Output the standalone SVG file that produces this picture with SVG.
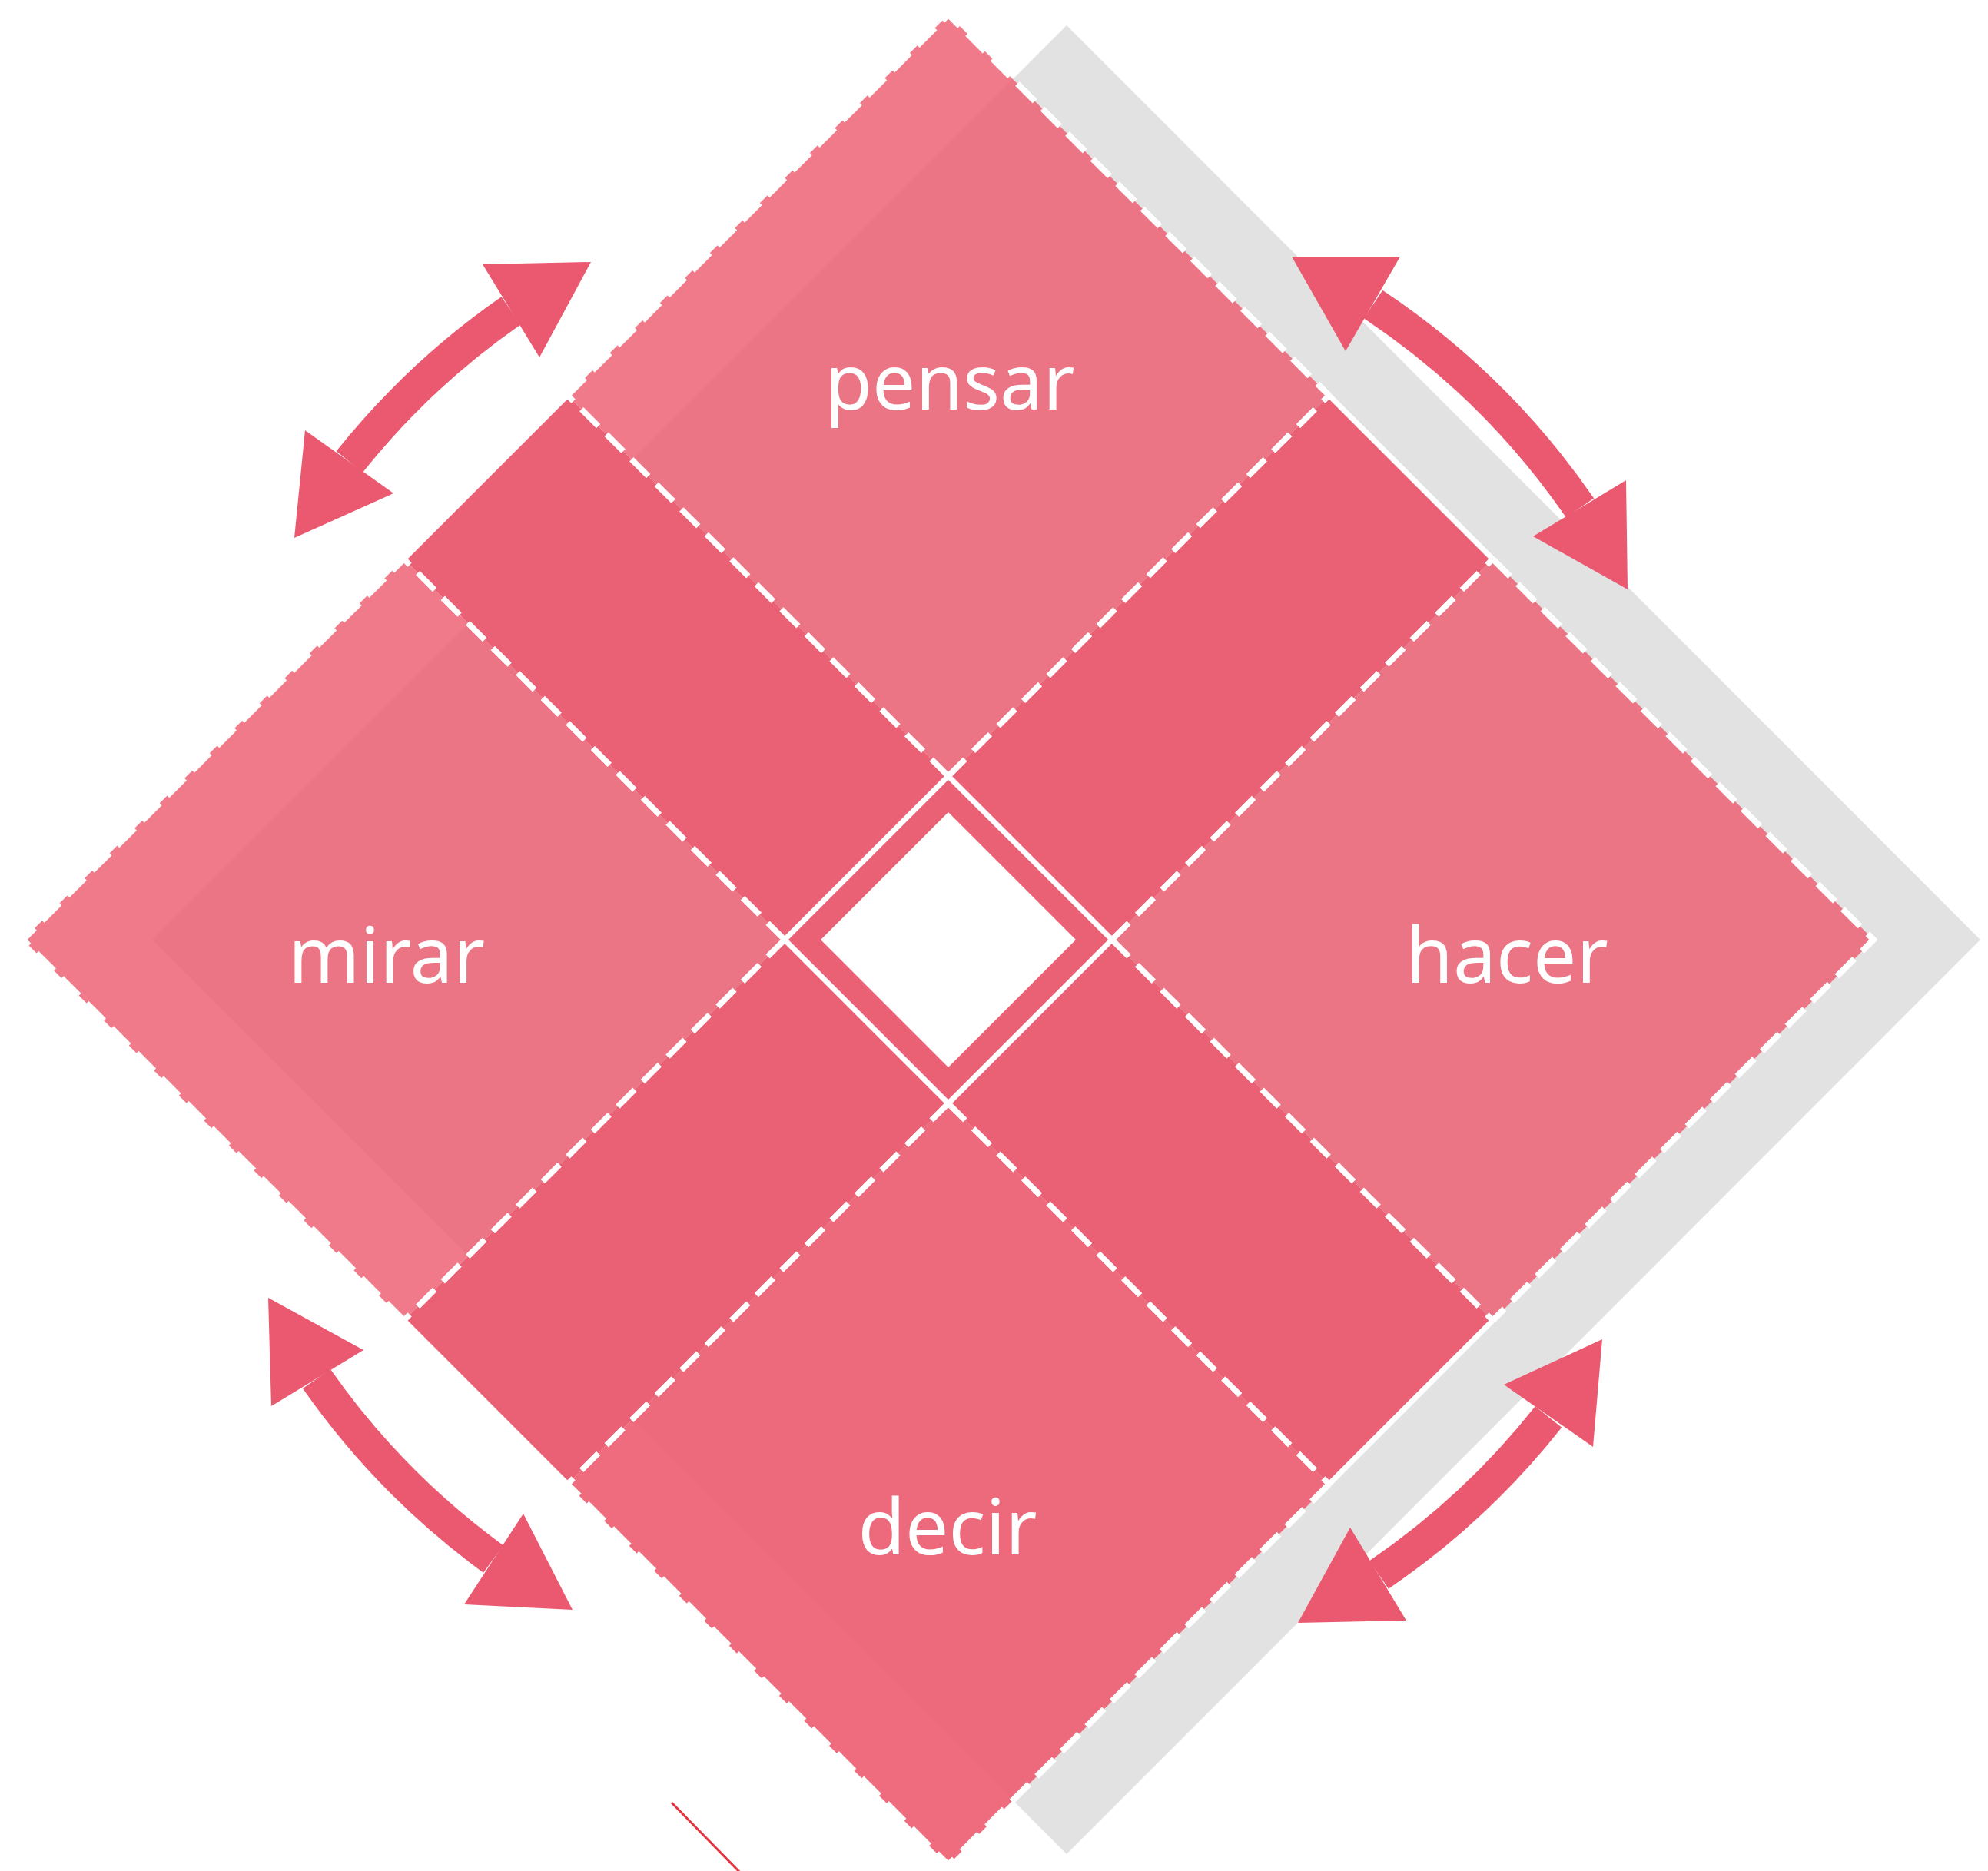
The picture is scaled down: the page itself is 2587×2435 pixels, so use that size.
<svg xmlns="http://www.w3.org/2000/svg" width="2587" height="2435" viewBox="0 0 2587 2435">
<style>
.corner{fill:#ED5F72;fill-opacity:0.83}
.dark{fill:#EA6075}
.lbl{font-family:"Noto Sans","Open Sans","Liberation Sans",sans-serif;font-size:100px;fill:#FFFFFF;text-anchor:middle}
.dash-in{fill:none;stroke:#FFFFFF;stroke-width:7.5;stroke-dasharray:31 15}
.dash-out{fill:none;stroke:#FFFFFF;stroke-width:8;stroke-dasharray:32 14}
.solid{fill:none;stroke:#FFFFFF;stroke-width:7}
.arc{fill:none;stroke:#EB5971;stroke-width:44}
.head{fill:#EB5971}
</style>
<rect width="2587" height="2435" fill="#FFFFFF"/>
<g id="shadow">
<polygon points="1388,33 2577,1223 1388,2413 198,1223" fill="#E2E2E2"/>
</g>
<g id="node-cross">
<polygon class="dark" points="738.5,514.5 1234,1010 1729.5,514.5 1942.5,727.5 1447,1223 1942.5,1718.5 1729.5,1931.5 1234,1436 738.5,1931.5 525.5,1718.5 1021,1223 525.5,727.5"/>
<polygon fill="#FFFFFF" points="1234,1057 1400,1223 1234,1389 1068,1223"/>
<polygon class="solid" points="1234,1010 1447,1223 1234,1436 1021,1223"/>
<path class="solid" d="M525.5,727.5 L738.5,514.5 M1729.5,514.5 L1942.5,727.5 M1942.5,1718.5 L1729.5,1931.5 M738.5,1931.5 L525.5,1718.5"/>
</g>
<g id="node-pensar">
<polygon class="corner" points="1234,19 1729.5,514.5 1234,1010 738.5,514.5"/>
<path class="dash-out" d="M738.5,514.5 L1234,19 L1729.5,514.5"/>
<text class="lbl" x="1236" y="533">pensar</text>
</g>
<g id="node-hacer">
<polygon class="corner" points="2438,1223 1942.5,1718.5 1447,1223 1942.5,727.5"/>
<path class="dash-out" d="M1942.5,727.5 L2438,1223 L1942.5,1718.5"/>
<text class="lbl" x="1961" y="1279">hacer</text>
</g>
<g id="node-decir">
<polygon class="corner" style="fill-opacity:0.92" points="1234,2427 738.5,1931.5 1234,1436 1729.5,1931.5"/>
<path class="dash-out" d="M1729.5,1931.5 L1234,2427 L738.5,1931.5"/>
<text class="lbl" x="1233" y="2023">decir</text>
</g>
<g id="node-mirar">
<polygon class="corner" points="30,1223 525.5,727.5 1021,1223 525.5,1718.5"/>
<path class="dash-out" d="M525.5,1718.5 L30,1223 L525.5,727.5"/>
<text class="lbl" x="503" y="1279">mirar</text>
</g>
<g id="grid-lines">
<path class="dash-in" d="M1234,1010 L738.5,514.5 M1447,1223 L1942.5,1718.5 M1021,1223 L525.5,727.5 M1234,1436 L1729.5,1931.5 M1234,1436 L738.5,1931.5 M1447,1223 L1942.5,727.5 M1021,1223 L525.5,1718.5 M1234,1010 L1729.5,514.5"/>
</g>
<g id="connectors">
<path class="arc" d="M454.8,601 A997,997 0 0 1 665,404.4"/>
<polygon class="head" points="769,341 628,344 702,465"/>
<polygon class="head" points="383,700 397,560 512,642"/>
<path class="arc" d="M1787,396 A997,997 0 0 1 2056,661"/>
<polygon class="head" points="1681,334 1822,334 1751,457"/>
<polygon class="head" points="2118,767 2116,625 1995,698"/>
<path class="arc" d="M2015,1844 A997,997 0 0 1 1794.5,2049.5"/>
<polygon class="head" points="2085,1743 1957,1802 2073,1883"/>
<polygon class="head" points="1689,2112 1757,1988 1830,2109"/>
<path class="arc" d="M642,2029 A997,997 0 0 1 412,1794.5"/>
<polygon class="head" points="349,1689 473,1757 353,1830"/>
<polygon class="head" points="745,2095 681,1970 604,2088"/>
</g>
<line x1="874" y1="2346" x2="968" y2="2442" stroke="#E5333F" stroke-width="3"/>
</svg>
